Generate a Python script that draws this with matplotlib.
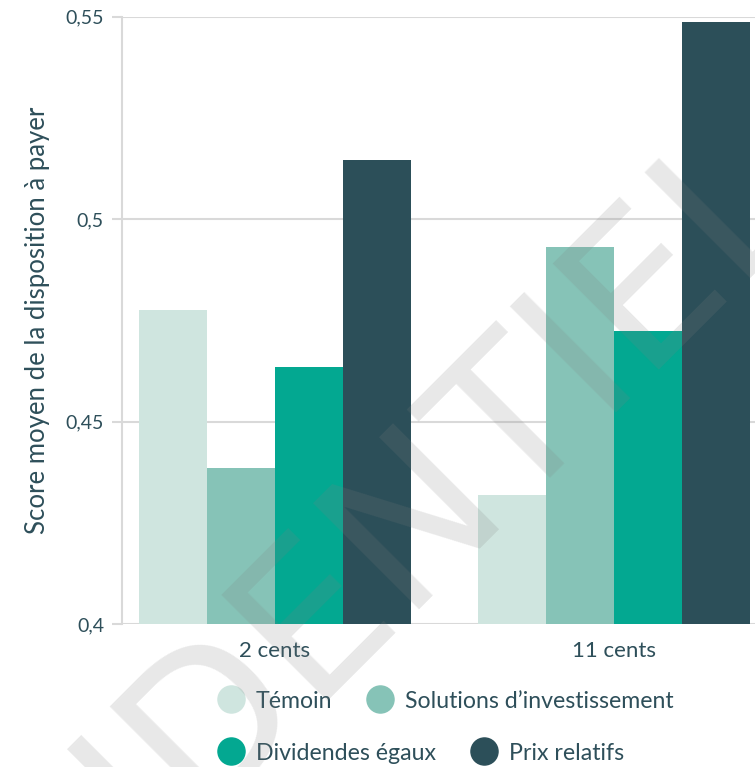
import matplotlib
matplotlib.use("Agg")
import matplotlib.pyplot as plt
from matplotlib.lines import Line2D
from matplotlib.ticker import FuncFormatter
import numpy as np

categories = ["2 cents", "11 cents"]
series_names = ["Témoin", "Solutions d’investissement", "Dividendes égaux", "Prix relatifs"]
temoin = [0.4776, 0.4319]
solutions = [0.4385, 0.4931]
dividendes = [0.4635, 0.4724]
prix = [0.5146, 0.5487]
y_ticks = [0.4, 0.45, 0.5, 0.55]
y_label = "Score moyen de la disposition à payer"
watermark = "CONFIDENTIEL"
colors = ["#cfe5df", "#86c3b7", "#03a891", "#2c4f59"]
text_color = "#2e4f5a"
grid_color = "#d9d9d9"

plt.rcParams['font.family'] = ['Lato', 'DejaVu Sans']

fig = plt.figure(figsize=(7.55, 7.67), dpi=100)
ax = fig.add_axes([122/755, 1-624/767, 1-122/755, (624-16.7)/767])

x = np.arange(len(categories))
width = 0.2
all_series = [temoin, solutions, dividendes, prix]
for i, (vals, name, col) in enumerate(zip(all_series, series_names, colors)):
    ax.bar(x + (i - 1.5) * width, [v - 0.4 for v in vals], width, bottom=0.4,
           color=col, label=name, zorder=2)

ax.set_ylim(0.4, 0.55)
ax.set_xlim(-0.451, 1.416)
ax.set_yticks(y_ticks)
ax.yaxis.set_major_formatter(FuncFormatter(lambda v, p: f"{v:g}".replace(".", ",")))
ax.set_xticks(x)
ax.set_xticklabels(categories)
ax.grid(axis='y', color=grid_color, linewidth=1.5, zorder=0)
for s in ["top", "right", "bottom"]:
    ax.spines[s].set_visible(False)
ax.spines["left"].set_color(grid_color)
ax.spines["left"].set_linewidth(1.5)
ax.tick_params(axis='y', colors=grid_color, labelcolor=text_color, length=7, width=1.5,
               pad=6, labelsize=14)
ax.tick_params(axis='x', length=0, labelcolor=text_color, labelsize=16, pad=12)
ax.set_ylabel(y_label, color=text_color, fontsize=18.5, labelpad=11)

handles = [Line2D([0], [0], marker='o', linestyle='none', markersize=19.5,
                  markerfacecolor=c, markeredgecolor=c) for c in colors]
kw = dict(frameon=False, fontsize=16.7, handlelength=1.4, handletextpad=0.38,
          columnspacing=1.36, borderpad=0, borderaxespad=0, ncol=2,
          loc='center left', labelcolor=text_color)
leg1 = fig.legend(handles[:2], series_names[:2], bbox_to_anchor=(214.5/755, 1-701/767), **kw)
leg2 = fig.legend(handles[2:], series_names[2:], bbox_to_anchor=(214.5/755, 1-753/767), **kw)

# watermark
fig.text(815/755, 1-203/767, watermark, fontsize=147.6, rotation=45,
         rotation_mode='anchor', ha='right', va='baseline', color="#808080",
         alpha=0.18, family='DejaVu Sans', zorder=10)

fig.savefig("out.png", dpi=100)
